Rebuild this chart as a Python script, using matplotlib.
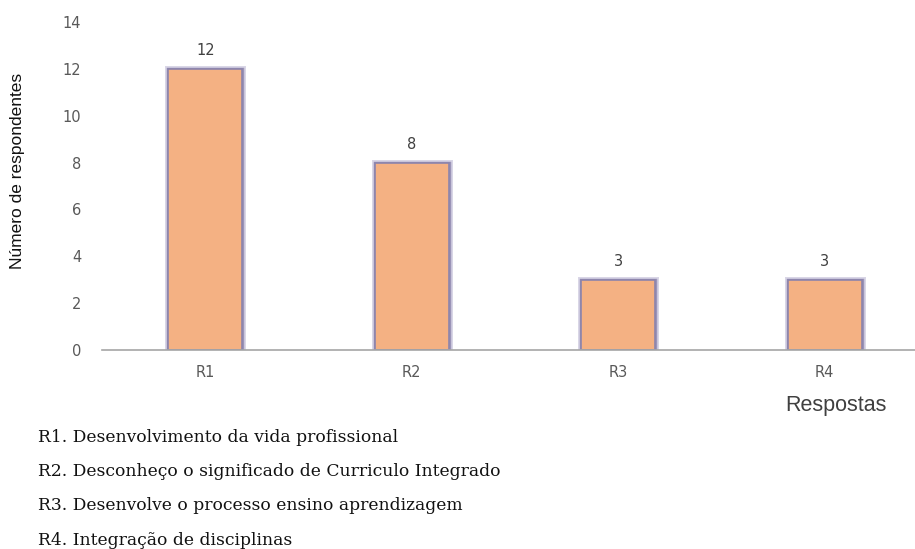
import matplotlib.pyplot as plt
import matplotlib.patheffects as pe

categories = ['R1', 'R2', 'R3', 'R4']
values = [12, 8, 3, 3]
descriptions = [
    'R1. Desenvolvimento da vida profissional',
    'R2. Desconheço o significado de Curriculo Integrado',
    'R3. Desenvolve o processo ensino aprendizagem',
    'R4. Integração de disciplinas',
]

plt.rcParams['font.family'] = 'DejaVu Sans'

fig = plt.figure(figsize=(9.15, 5.49), dpi=100)
ax = fig.add_axes([102 / 915, 1 - 350 / 549, 826 / 915, 328 / 549])

bars = ax.bar(range(len(categories)), values, width=0.36,
              color='#F4B183', edgecolor='#8C84AC', linewidth=1.2)
# soft purple glow along the bar edges
for b in bars:
    b.set_path_effects([
        pe.Stroke(linewidth=5, foreground='#A9A2C8', alpha=0.45),
        pe.Stroke(linewidth=2.5, foreground='#8C84AC', alpha=0.8),
        pe.Normal(),
    ])

for i, v in enumerate(values):
    ax.text(i, v + 0.45, str(v), ha='center', va='bottom',
            fontsize=10.5, color='#404040')

ax.set_xlim(-0.5, 3.5)
ax.set_ylim(0, 14)
ax.set_yticks(range(0, 15, 2))
ax.set_xticks(range(len(categories)))
ax.set_xticklabels(categories)
ax.tick_params(axis='both', length=0, labelsize=10.5, colors='#595959')
ax.tick_params(axis='y', pad=15)
ax.tick_params(axis='x', pad=11)
for s in ['top', 'right', 'left']:
    ax.spines[s].set_visible(False)
ax.spines['bottom'].set_color('#A6A6A6')
ax.spines['bottom'].set_linewidth(1.2)

fig.text(18 / 915, 1 - 171 / 549, 'Número de respondentes', rotation=90,
         ha='center', va='center', fontsize=12.5,
         family='Liberation Sans', color='#111111')
fig.text(836 / 915, 1 - 405 / 549, 'Respostas', ha='center', va='center',
         fontsize=15.5, family='Liberation Sans', color='#404040')

for k, line in enumerate(descriptions):
    fig.text(38 / 915, 1 - (437 + k * 34.5) / 549, line, ha='left', va='center',
             fontsize=12.3, family='DejaVu Serif', color='#111111')

fig.savefig('out.png', dpi=100)
